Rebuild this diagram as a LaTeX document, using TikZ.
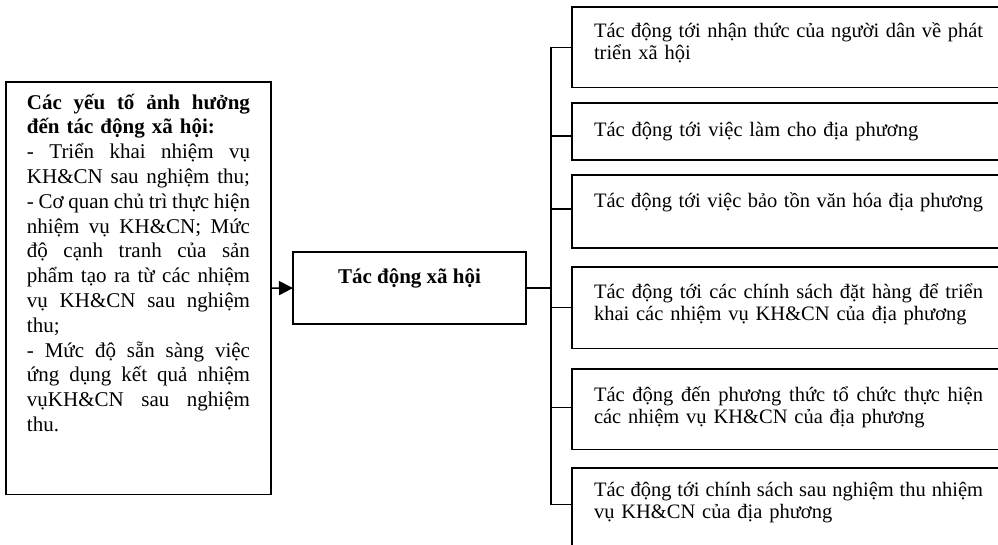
\documentclass[tikz,border=0pt]{standalone}
\usepackage{fontspec}
\setmainfont{Liberation Serif}
\usetikzlibrary{arrows.meta}
\newcommand\tstrut[1]{\rule{0pt}{#1pt}}
\newcommand\bstrut[1]{\rule[-#1pt]{0pt}{#1pt}}
\newcommand\fw[2]{\makebox[#1pt][s]{\spaceskip=0pt plus 1fil\relax #2}}
\newcommand\fl[1]{\fw{223}{#1}}
\tikzset{
  box/.style={draw, line width=1.4pt, rectangle, inner sep=0pt, outer sep=0pt},
  rbox/.style={box, anchor=north west, inner xsep=22pt, inner ysep=0pt, text width=420pt, align=left,
    font=\fontsize{20.5}{22.5}\selectfont},
  lbox/.style={box, anchor=north west, inner xsep=21pt, inner ysep=0pt, text width=223pt, align=left,
    font=\fontsize{21}{24.8}\selectfont},
  conn/.style={line width=1.4pt},
}
\begin{document}
\begin{tikzpicture}[x=1pt,y=-1pt]
\clip (0,0) rectangle (998,544);
\fill[white] (0,0) rectangle (998,544);

\node[lbox] (left) at (6,82) {%
\tstrut{27}\fl{\bfseries Các yếu tố ảnh hưởng}\\
{\bfseries đến tác động xã hội:}\\
\fl{- Triển khai nhiệm vụ}\\
\fl{KH\&CN sau nghiệm thu;}\\
\fl{- Cơ quan chủ trì thực hiện}\\
\fl{nhiệm vụ KH\&CN; Mức}\\
\fl{độ cạnh tranh của sản}\\
\fl{phẩm tạo ra từ các nhiệm}\\
\fl{vụ KH\&CN sau nghiệm}\\
thu;\\
\fl{- Mức độ sẵn sàng việc}\\
\fl{ứng dụng kết quả nhiệm}\\
\fl{vụKH\&CN sau nghiệm}\\
thu.\bstrut{63}};

\node[box, minimum width=233pt, text height=31pt, text depth=41pt,
  font=\bfseries\fontsize{21}{25}\selectfont] (mid) at (409.5,288) {Tác động xã hội};

\node[rbox] (r1) at (572,7) {\tstrut{30}\fw{389}{Tác động tới nhận thức của người dân về phát}\\triển xã hội\bstrut{28}};
\node[rbox] (r2) at (572,103) {\tstrut{33}Tác động tới việc làm cho địa phương\bstrut{24}};
\node[rbox] (r3) at (572,175) {\tstrut{32}\fw{389}{Tác động tới việc bảo tồn văn hóa địa phương}\bstrut{41}};
\node[rbox] (r4) at (572,267) {\tstrut{31}\fw{389}{Tác động tới các chính sách đặt hàng để triển}\\khai các nhiệm vụ KH\&CN của địa phương\bstrut{28}};
\node[rbox] (r5) at (572,369) {\tstrut{32}\fw{389}{Tác động đến phương thức tổ chức thực hiện}\\các nhiệm vụ KH\&CN của địa phương\bstrut{26}};
\node[rbox] (r6) at (572,468) {\tstrut{28}\fw{389}{Tác động tới chính sách sau nghiệm thu nhiệm}\\vụ KH\&CN của địa phương\bstrut{29}};

\coordinate (bus) at (551,288);
\coordinate (s1) at (r1.west);
\coordinate (s2) at ([yshift=-4.5pt]r2.west);
\coordinate (s3) at ([yshift=2.5pt]r3.west);
\coordinate (s4) at (r4.west);
\coordinate (s5) at ([yshift=2pt]r5.west);
\coordinate (s6) at ([yshift=3pt]r6.west);
\draw[conn, -{Triangle[length=14pt,width=14pt]}] (left.east) -- (mid.west);
\draw[conn] (mid.east) -- (bus);
\draw[conn] (bus |- s1) -- (bus |- s6);
\foreach \s in {s1,s2,s3,s4,s5,s6} \draw[conn] (\s) -- (bus |- \s);
\end{tikzpicture}
\end{document}
